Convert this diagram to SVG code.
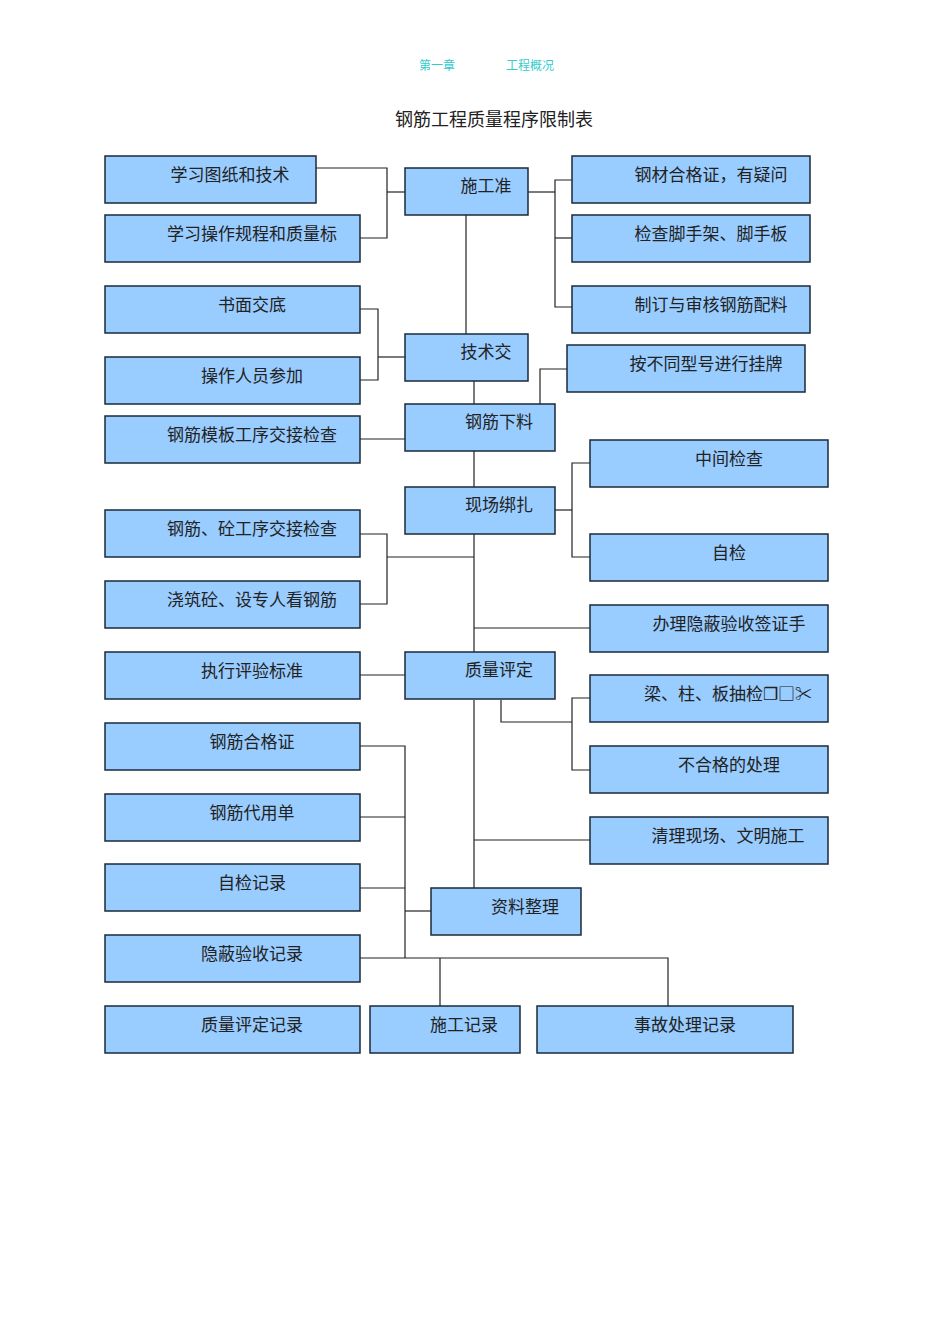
<svg xmlns="http://www.w3.org/2000/svg" width="950" height="1344" viewBox="0 0 950 1344">
<style>
rect{fill:#99ccff;stroke:#1a2a3a;stroke-width:1.5}
text{font-family:"Noto Sans CJK SC","Liberation Serif",serif;font-size:17px;fill:#222;text-anchor:middle}
.c line,.c polyline{stroke:#222;stroke-width:1.2;fill:none}
.h{fill:#33cccc;font-size:12px}
</style>
<rect width="950" height="1344" style="fill:#fff;stroke:none"/>
<text class="h" x="437" y="70">第一章</text>
<text class="h" x="530" y="70">工程概况</text>
<text x="494" y="126" style="font-size:18px">钢筋工程质量程序限制表</text>
<g class="c">
<polyline points="316,168 387,168 387,238 360,238"/><line x1="387" y1="192" x2="405" y2="192"/>
<polyline points="572,180 555,180 555,307 572,307"/><line x1="528" y1="192" x2="555" y2="192"/><line x1="555" y1="238" x2="572" y2="238"/>
<line x1="466" y1="215" x2="466" y2="334"/>
<polyline points="360,309 378,309 378,380 360,380"/><line x1="378" y1="357" x2="405" y2="357"/>
<line x1="474" y1="381" x2="474" y2="404"/>
<polyline points="540,404 540,369 567,369"/>
<line x1="360" y1="439" x2="405" y2="439"/>
<line x1="474" y1="451" x2="474" y2="487"/>
<line x1="474" y1="534" x2="474" y2="652"/>
<line x1="474" y1="700" x2="474" y2="888"/>
<line x1="555" y1="510" x2="572" y2="510"/>
<polyline points="590,463 572,463 572,557 590,557"/>
<polyline points="360,534 387,534 387,604 360,604"/><line x1="387" y1="557" x2="474" y2="557"/>
<line x1="474" y1="628" x2="590" y2="628"/>
<line x1="360" y1="675" x2="405" y2="675"/>
<polyline points="501,700 501,722 572,722"/>
<polyline points="590,698 572,698 572,770 590,770"/>
<line x1="474" y1="840" x2="590" y2="840"/>
<polyline points="360,746 405,746 405,958"/><line x1="360" y1="817" x2="405" y2="817"/><line x1="360" y1="888" x2="405" y2="888"/><line x1="405" y1="911" x2="431" y2="911"/>
<polyline points="440,1006 440,958 360,958 668,958 668,1006"/>
</g>
<g id="n1"><rect x="105" y="156" width="211" height="47"/><text x="230" y="181">学习图纸和技术</text></g>
<g id="n2"><rect x="105" y="215" width="255" height="47"/><text x="252" y="240">学习操作规程和质量标</text></g>
<g id="n3"><rect x="105" y="286" width="255" height="47"/><text x="252" y="311">书面交底</text></g>
<g id="n4"><rect x="105" y="357" width="255" height="47"/><text x="252" y="382">操作人员参加</text></g>
<g id="n5"><rect x="105" y="416" width="255" height="47"/><text x="252" y="441">钢筋模板工序交接检查</text></g>
<g id="n6"><rect x="105" y="510" width="255" height="47"/><text x="252" y="535">钢筋、砼工序交接检查</text></g>
<g id="n7"><rect x="105" y="581" width="255" height="47"/><text x="252" y="606">浇筑砼、设专人看钢筋</text></g>
<g id="n8"><rect x="105" y="652" width="255" height="47"/><text x="252" y="677">执行评验标准</text></g>
<g id="n9"><rect x="105" y="723" width="255" height="47"/><text x="252" y="748">钢筋合格证</text></g>
<g id="n10"><rect x="105" y="794" width="255" height="47"/><text x="252" y="819">钢筋代用单</text></g>
<g id="n11"><rect x="105" y="864" width="255" height="47"/><text x="252" y="889">自检记录</text></g>
<g id="n12"><rect x="105" y="935" width="255" height="47"/><text x="252" y="960">隐蔽验收记录</text></g>
<g id="n13"><rect x="105" y="1006" width="255" height="47"/><text x="252" y="1031">质量评定记录</text></g>
<g id="c1"><rect x="405" y="168" width="123" height="47"/><text x="486" y="192">施工准</text></g>
<g id="c2"><rect x="405" y="334" width="123" height="47"/><text x="486" y="358">技术交</text></g>
<g id="c3"><rect x="405" y="404" width="150" height="47"/><text x="499" y="428">钢筋下料</text></g>
<g id="c4"><rect x="405" y="487" width="150" height="47"/><text x="499" y="511">现场绑扎</text></g>
<g id="c5"><rect x="405" y="652" width="150" height="47"/><text x="499" y="676">质量评定</text></g>
<g id="c6"><rect x="431" y="888" width="150" height="47"/><text x="525" y="913">资料整理</text></g>
<g id="b1"><rect x="370" y="1006" width="150" height="47"/><text x="464" y="1031">施工记录</text></g>
<g id="b2"><rect x="537" y="1006" width="256" height="47"/><text x="685" y="1031">事故处理记录</text></g>
<g id="r1"><rect x="572" y="156" width="238" height="47"/><text x="711" y="181">钢材合格证，有疑问</text></g>
<g id="r2"><rect x="572" y="215" width="238" height="47"/><text x="711" y="240">检查脚手架、脚手板</text></g>
<g id="r3"><rect x="572" y="286" width="238" height="47"/><text x="711" y="311">制订与审核钢筋配料</text></g>
<g id="r4"><rect x="567" y="345" width="238" height="47"/><text x="706" y="370">按不同型号进行挂牌</text></g>
<g id="r5"><rect x="590" y="440" width="238" height="47"/><text x="729" y="465">中间检查</text></g>
<g id="r6"><rect x="590" y="534" width="238" height="47"/><text x="729" y="559">自检</text></g>
<g id="r7"><rect x="590" y="605" width="238" height="47"/><text x="729" y="630">办理隐蔽验收签证手</text></g>
<g id="r8"><rect x="590" y="675" width="238" height="47"/><text x="728" y="700">梁、柱、板抽检❐□✂</text></g>
<g id="r9"><rect x="590" y="746" width="238" height="47"/><text x="729" y="771">不合格的处理</text></g>
<g id="r10"><rect x="590" y="817" width="238" height="47"/><text x="728" y="842">清理现场、文明施工</text></g>
</svg>
